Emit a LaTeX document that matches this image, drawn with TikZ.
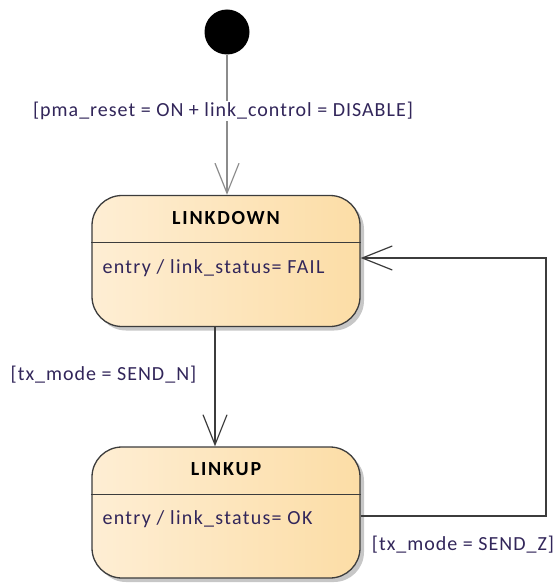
\documentclass[tikz,border=0pt]{standalone}
\usepackage{fontspec}
\setmainfont{Carlito}
\newfontfamily\lblfont[LetterSpace=5]{Carlito}
\newfontfamily\entfont[LetterSpace=6.5]{Carlito}
\newfontfamily\ttlfont[LetterSpace=9]{Carlito}
\usetikzlibrary{arrows.meta,shadows}
\definecolor{txtc}{RGB}{50,38,90}
\definecolor{boxl}{RGB}{254,238,212}
\definecolor{boxr}{RGB}{252,221,166}
\definecolor{edge}{RGB}{60,60,60}
\begin{document}
\begin{tikzpicture}[x=1pt,y=-1pt,
  state/.style={rectangle, rounded corners=30pt, draw=edge, line width=1.3pt,
    left color=boxl, right color=boxr, minimum width=268pt, minimum height=131pt,
    inner sep=0pt, drop shadow={shadow xshift=4pt, shadow yshift=-4pt, fill=black!22, opacity=1}},
  divider/.style={draw=edge, line width=1.2pt},
  ttl/.style={font=\ttlfont\fontsize{20}{22}\selectfont\bfseries, text=black, inner sep=0pt},
  entrytxt/.style={font=\entfont\fontsize{20}{22}\selectfont, text=txtc, anchor=west, inner sep=0pt},
  lbl/.style={font=\lblfont\fontsize{20}{22}\selectfont, text=txtc, inner sep=1pt},
  conn/.style={draw=edge, line width=1.2pt},
  tip/.style={-{Straight Barb[length=30pt,width=24pt,line width=1.2pt]}}
  ]
\useasboundingbox (0,0) rectangle (555,583);
% states
\node[state] (ld) at (226,261) {};
\node[state] (lu) at (226,512.5) {};
\draw[divider] ([yshift=-48pt]ld.north west) -- ([yshift=-48pt]ld.north east);
\draw[divider] ([yshift=-48pt]lu.north west) -- ([yshift=-48pt]lu.north east);
\node[ttl] (ldt) at ([yshift=-23pt]ld.north) {LINKDOWN};
\node[ttl] (lut) at ([yshift=-23pt]lu.north) {LINKUP};
\node[entrytxt] (lde) at ([xshift=11pt,yshift=-73pt]ld.north west) {entry / link\_status= FAIL};
\node[entrytxt] (lue) at ([xshift=11pt,yshift=-73pt]lu.north west) {entry / link\_status= OK};
% initial
\node[circle, fill=black, minimum size=45pt, inner sep=0pt] (init) at (227,32) {};
\draw[draw=black!45, line width=1.5pt, tip] (init) -- (init |- ld.north);
\node[lbl, fill=white] (l1) at (223,111) {[pma\_reset = ON + link\_control = DISABLE]};
% down
\draw[conn, tip] ([xshift=-11pt]ld.south) -- ([xshift=-11pt]lu.north);
\node[lbl] (l2) at (103.5,375) {[tx\_mode = SEND\_N]};
% return
\coordinate (rc) at (546,516);
\draw[conn, tip] ([yshift=-3.5pt]lu.east) -- (rc) |- ([yshift=3pt]ld.east);
\node[lbl] (l3) at (463,545) {[tx\_mode = SEND\_Z]};
\end{tikzpicture}
\end{document}
